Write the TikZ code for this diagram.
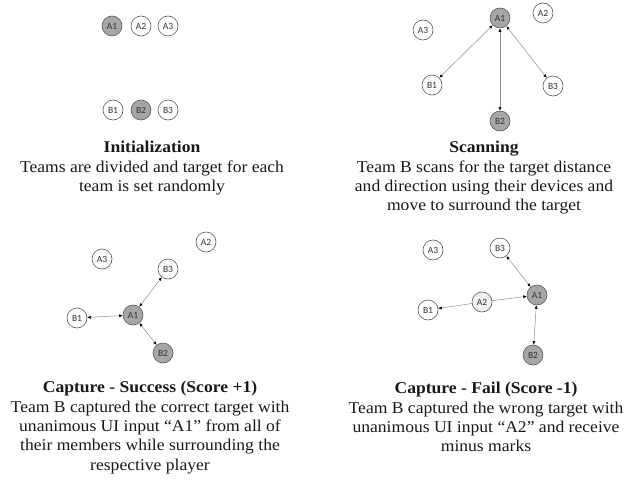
\documentclass[tikz,border=0pt]{standalone}
\usepackage{fontspec}
\setmainfont{Liberation Serif}
\newfontfamily\tagfont{Carlito}
\usetikzlibrary{arrows.meta}
\tikzset{
  player/.style = {circle, draw=black!65, fill=white, inner sep=0pt,
    minimum size=20pt, text=black!80, line width=0.6pt,
    font=\tagfont\fontsize{9.5}{10}\selectfont},% free player
  target/.style = {player, fill=black!35},% target player
  decoy/.style = {player, fill=black!6},% wrongly chosen player
  link/.style = {draw=black!45, line width=0.5pt,
    {Latex[length=3.5pt,width=3pt,black]}-{Latex[length=3.5pt,width=3pt,black]}},
  pick/.style = {draw=black!45, line width=0.5pt,
    -{Latex[length=3.5pt,width=3pt,black]}},
  caption/.style = {align=center, anchor=north, inner sep=0pt,
    text=black!90, xscale=1.065, transform shape,
    font=\fontsize{16.5}{19.4}\selectfont}
}

\begin{document}
\begin{tikzpicture}[x=1pt, y=-1pt]
  \useasboundingbox (0,0) rectangle (636,484);
  % initialization
  \node [target] (iA1) at (112,26) {A1};
  \node [player] (iA2) at (141,26) {A2};
  \node [player] (iA3) at (168,26) {A3};
  \node [player] (iB1) at (113,110) {B1};
  \node [target] (iB2) at (141,110) {B2};
  \node [player] (iB3) at (168,110) {B3};
  \node [caption] (icap) at (152,141) {\textbf{Initialization}\\
    Teams are divided and target for each\\team is set randomly};
  % scanning
  \node [target] (sA1) at (500,18) {A1};
  \node [player] (sA2) at (543,13) {A2};
  \node [player] (sA3) at (423,30) {A3};
  \node [player] (sB1) at (432,85) {B1};
  \node [target] (sB2) at (500,121) {B2};
  \node [player] (sB3) at (553,86) {B3};
  \draw [link] (sA1) -- (sB1);
  \draw [link] (sA1) -- (sB2);
  \draw [link] (sA1) -- (sB3);
  \node [caption] (scap) at (484,141) {\textbf{Scanning}\\
    Team B scans for the target distance\\
    and direction using their devices and\\move to surround the target};
  % capture - success
  \node [target] (cA1) at (133,315) {A1};
  \node [player] (cA2) at (206,242) {A2};
  \node [player] (cA3) at (102,259) {A3};
  \node [player] (cB1) at (77,318) {B1};
  \node [target] (cB2) at (163,353) {B2};
  \node [player] (cB3) at (168,269) {B3};
  \draw [link] (cB1) -- (cA1);
  \draw [link] (cA1) -- (cB3);
  \draw [link] (cA1) -- (cB2);
  \node [caption] (ccap) at (150,381) {\textbf{Capture - Success (Score +1)}\\
    Team B captured the correct target with\\
    unanimous UI input ``A1'' from all of\\
    their members while surrounding the\\respective player};
  % capture - fail
  \node [target] (fA1) at (537,295) {A1};
  \node [decoy] (fA2) at (482,302) {A2};
  \node [player] (fA3) at (433,250) {A3};
  \node [player] (fB1) at (428,310) {B1};
  \node [target] (fB2) at (533,355) {B2};
  \node [player] (fB3) at (500,248) {B3};
  \draw [link] (fB3) -- (fA1);
  \draw [link] (fA1) -- (fB2);
  \draw [pick] (fA2) -- (fA1);
  \draw [pick] (fA2) -- (fB1);
  \node [caption] (fcap) at (486,382) {\textbf{Capture - Fail (Score -1)}\\
    Team B captured the wrong target with\\
    unanimous UI input ``A2'' and receive\\minus marks};
\end{tikzpicture}
\end{document}
